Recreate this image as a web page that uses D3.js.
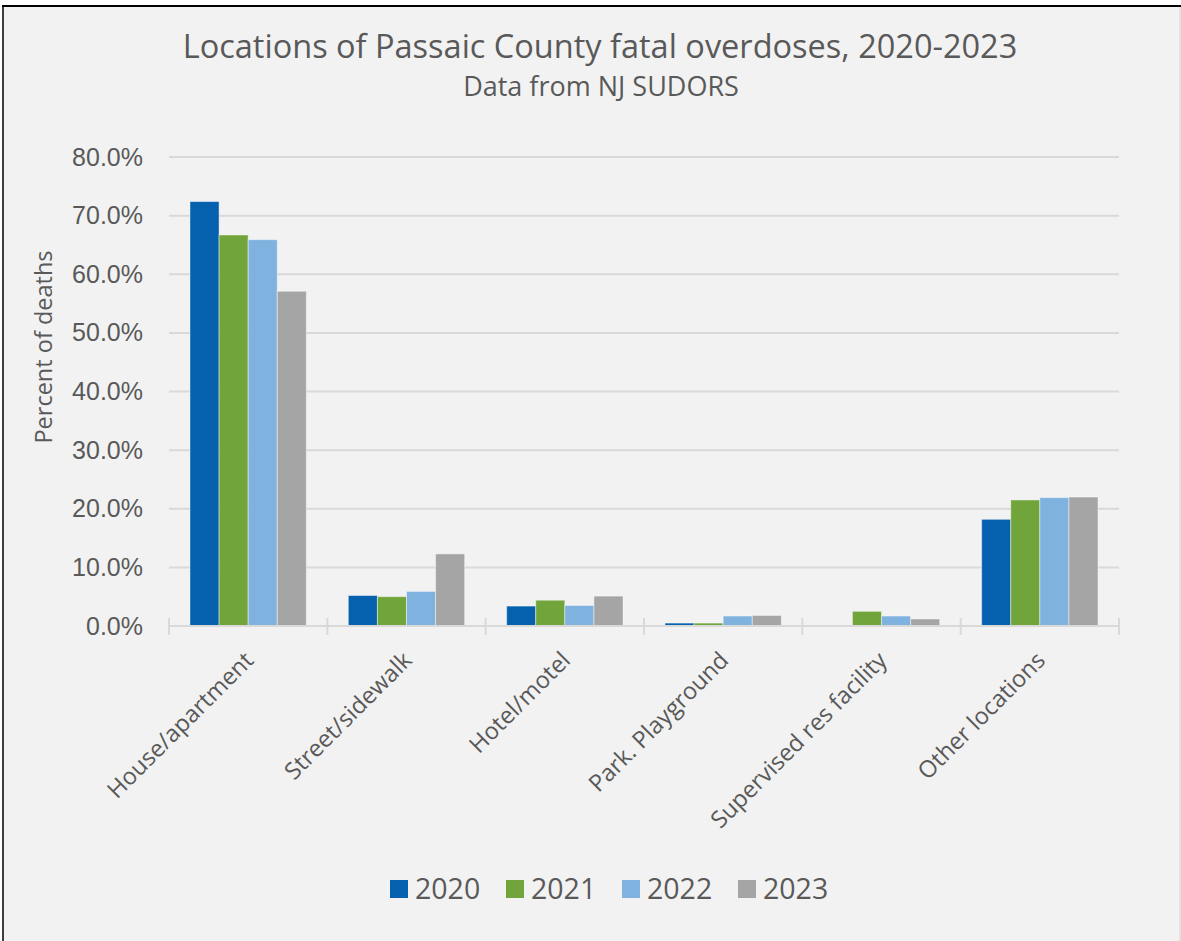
<!DOCTYPE html>
<html lang="en">
<head>
    <meta charset="UTF-8">
    <title>Locations of Passaic County fatal overdoses</title>
    <script src="https://d3js.org/d3.v7.min.js"></script>
    <style>
        body { margin: 0; background: #ffffff; font-family: 'Open Sans', sans-serif; }
        text { fill: #595959; }
    </style>
</head>
<body>
<div id="chart"></div>
<script>
    // chart data
    const locations = ['House/apartment', 'Street/sidewalk', 'Hotel/motel', 'Park. Playground', 'Supervised res facility', 'Other locations'];
    const years = ['2020', '2021', '2022', '2023'];
    const values2020 = [72.4, 5.2, 3.4, 0.5, 0.0, 18.2];
    const values2021 = [66.7, 5.0, 4.4, 0.5, 2.5, 21.5];
    const values2022 = [65.9, 5.9, 3.5, 1.7, 1.7, 21.9];
    const values2023 = [57.1, 12.3, 5.1, 1.8, 1.2, 22.0];
    const yTicks = [0, 10, 20, 30, 40, 50, 60, 70, 80];
    const colors = ['#0560ae', '#71a43b', '#7fb2de', '#a5a5a5'];

    const series = [values2020, values2021, values2022, values2023];

    const width = 1181, height = 941;
    const plot = { left: 169, right: 1119, top: 157, bottom: 626 };

    const svg = d3.select('#chart').append('svg')
        .attr('width', width)
        .attr('height', height);

    // background + frame
    svg.append('rect').attr('x', 3).attr('y', 6).attr('width', width - 3).attr('height', height - 6).attr('fill', '#f2f2f2');
    svg.append('line').attr('x1', 2).attr('x2', width).attr('y1', 6).attr('y2', 6).attr('stroke', '#000').attr('stroke-width', 2);
    svg.append('line').attr('x1', 3).attr('x2', 3).attr('y1', 6).attr('y2', height).attr('stroke', '#000').attr('stroke-width', 1.5);
    svg.append('line').attr('x1', width - 1).attr('x2', width - 1).attr('y1', 7).attr('y2', height).attr('stroke', '#d0d0d0').attr('stroke-width', 1);

    // titles
    svg.append('text')
        .attr('x', 600).attr('y', 58)
        .attr('text-anchor', 'middle')
        .style('font-size', '32.5px')
        .text('Locations of Passaic County fatal overdoses, 2020-2023');
    svg.append('text')
        .attr('x', 601).attr('y', 96)
        .attr('text-anchor', 'middle')
        .style('font-size', '27px')
        .text('Data from NJ SUDORS');

    const y = d3.scaleLinear().domain([0, 80]).range([plot.bottom, plot.top]);
    const x0 = d3.scaleBand().domain(locations).range([plot.left, plot.right])
        .paddingInner(0.265).paddingOuter(0.1325);
    const x1 = d3.scaleBand().domain(years).range([0, x0.bandwidth()]);
    const color = d3.scaleOrdinal().domain(years).range(colors);

    // gridlines
    svg.append('g')
        .selectAll('line')
        .data(yTicks.filter(d => d > 0))
        .enter()
        .append('line')
        .attr('x1', plot.left).attr('x2', plot.right)
        .attr('y1', d => y(d)).attr('y2', d => y(d))
        .attr('stroke', '#d9d9d9').attr('stroke-width', 2);

    // y tick labels
    const yAxis = d3.axisLeft(y).tickValues(yTicks).tickSize(0).tickPadding(0)
        .tickFormat(d => d.toFixed(1) + '%');
    const yg = svg.append('g').attr('transform', `translate(143,0)`).call(yAxis);
    yg.select('.domain').remove();
    yg.selectAll('text').style('font-size', '25px').attr('fill', '#595959');

    // y axis title
    svg.append('text')
        .attr('transform', 'rotate(-90)')
        .attr('x', -347).attr('y', 52)
        .attr('text-anchor', 'middle')
        .style('font-size', '23.5px')
        .text('Percent of deaths');

    // bars
    const groups = svg.append('g')
        .selectAll('g')
        .data(locations)
        .enter()
        .append('g')
        .attr('transform', d => `translate(${x0(d)},0)`);

    groups.selectAll('rect')
        .data((d, i) => years.map((yr, j) => ({ year: yr, value: series[j][i] })))
        .enter()
        .append('rect')
        .filter(d => d.value > 0)
        .attr('x', d => x1(d.year))
        .attr('y', d => y(d.value))
        .attr('width', x1.bandwidth())
        .attr('height', d => y(0) - y(d.value))
        .attr('fill', d => color(d.year))
        .attr('stroke', 'rgba(255,255,255,0.45)')
        .attr('stroke-width', 1);

    // x axis line and category ticks
    const step = x0.step();
    svg.append('line')
        .attr('x1', plot.left).attr('x2', plot.right)
        .attr('y1', plot.bottom).attr('y2', plot.bottom)
        .attr('stroke', '#d9d9d9').attr('stroke-width', 2);
    svg.append('g')
        .selectAll('line')
        .data(d3.range(locations.length + 1))
        .enter()
        .append('line')
        .attr('x1', i => plot.left + i * step).attr('x2', i => plot.left + i * step)
        .attr('y1', plot.bottom - 8).attr('y2', plot.bottom + 9)
        .attr('stroke', '#d9d9d9').attr('stroke-width', 2);

    // x labels, rotated
    svg.append('g')
        .selectAll('text')
        .data(locations)
        .enter()
        .append('text')
        .attr('transform', d => `translate(${x0(d) + x0.bandwidth() / 2 + 1},${plot.bottom + 30}) rotate(-45)`)
        .attr('text-anchor', 'end')
        .attr('dy', '0.35em')
        .style('font-size', '23.5px')
        .text(d => d);

    // legend
    const legend = svg.append('g')
        .selectAll('g')
        .data(years)
        .enter()
        .append('g')
        .attr('transform', (d, i) => `translate(${390 + i * 116},880)`);
    legend.append('rect')
        .attr('width', 18).attr('height', 18)
        .attr('fill', d => color(d));
    legend.append('text')
        .attr('x', 25).attr('y', 9)
        .attr('dy', '0.36em')
        .style('font-size', '28.5px')
        .text(d => d);
</script>
</body>
</html>
